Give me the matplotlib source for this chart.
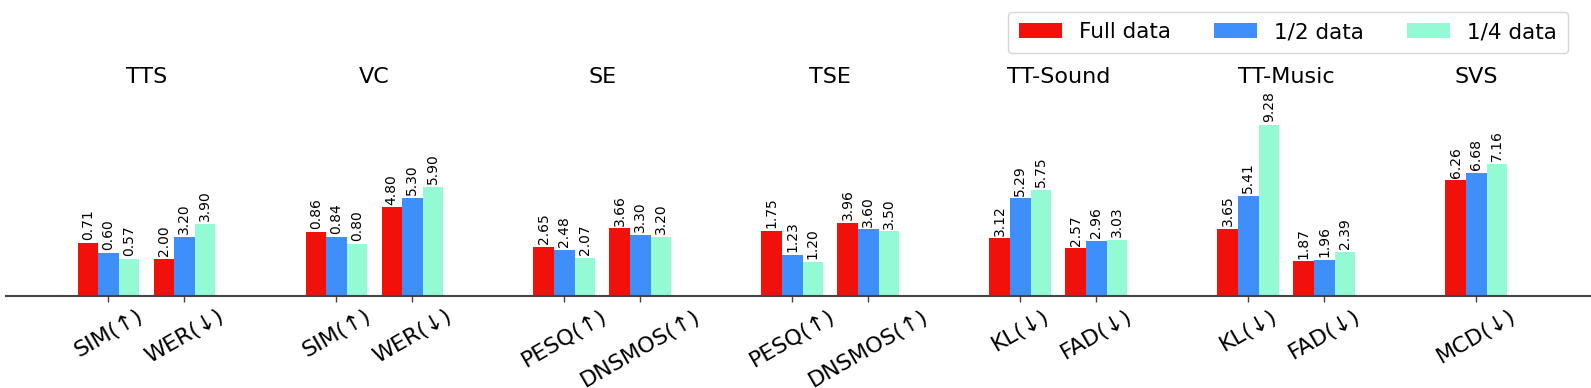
import matplotlib
matplotlib.use("Agg")
import matplotlib.pyplot as plt
import numpy as np

# tasks and their metrics
tasks = ['TTS', 'VC', 'SE', 'TSE', 'TT-Sound', 'TT-Music', 'SVS']
task_metrics = [['SIM(↑)', 'WER(↓)'], ['SIM(↑)', 'WER(↓)'], ['PESQ(↑)', 'DNSMOS(↑)'],
                ['PESQ(↑)', 'DNSMOS(↑)'], ['KL(↓)', 'FAD(↓)'], ['KL(↓)', 'FAD(↓)'], ['MCD(↓)']]

series_names = ['Full data', '1/2 data', '1/4 data']

# printed values
full = [0.71, 2.00, 0.86, 4.80, 2.65, 3.66, 1.75, 3.96, 3.12, 2.57, 3.65, 1.87, 6.26]
half = [0.60, 3.20, 0.84, 5.30, 2.48, 3.30, 1.23, 3.60, 5.29, 2.96, 5.41, 1.96, 6.68]
quarter = [0.57, 3.90, 0.80, 5.90, 2.07, 3.20, 1.20, 3.50, 5.75, 3.03, 9.28, 2.39, 7.16]

# drawn bar heights (SIM / TSE PESQ are rescaled)
full_h = [2.88, 2.00, 3.46, 4.80, 2.65, 3.66, 3.51, 3.96, 3.12, 2.57, 3.65, 1.87, 6.26]
half_h = [2.34, 3.20, 3.18, 5.30, 2.48, 3.30, 2.21, 3.60, 5.29, 2.96, 5.41, 1.96, 6.68]
quarter_h = [2.01, 3.90, 2.80, 5.90, 2.07, 3.20, 1.83, 3.50, 5.75, 3.03, 9.28, 2.39, 7.16]

colors = ['#f2100a', '#3f8ffb', '#94fad3']

# x positions: 3 units per task group
pos = []
labels = []
centers = []
for i, mets in enumerate(task_metrics):
    p = [i * 3 + k for k in range(len(mets))]
    pos += p
    labels += mets
    centers.append(np.mean(p))
pos = np.array(pos, dtype=float)

W, H = 1591, 388
fig = plt.figure(figsize=(W / 100, H / 100), dpi=100)
ax = fig.add_axes([6 / W, (H - 295.7) / H, (W - 6) / W, (295.7 - 50) / H])

width = 0.27
for j, (vals, hts) in enumerate(zip([full, half, quarter], [full_h, half_h, quarter_h])):
    x = pos + (j - 1) * width
    ax.bar(x, hts, width, color=colors[j], label=series_names[j])
    for xi, h, v in zip(x, hts, vals):
        ax.annotate('%.2f' % v, (xi, h), xytext=(0, 2), textcoords='offset points',
                    ha='center', va='bottom', rotation=90, fontsize=10)

for c, t in zip(centers, tasks):
    ax.text(c, 11.9, t, ha='center', va='center', fontsize=16)

ax.set_xticks(pos)
ax.set_xticklabels(labels, rotation=30, fontsize=16)
ax.set_yticks([])
ax.set_ylim(0, 13.35)
ax.set_xlim(-1.346, 19.51)
for s in ['top', 'right', 'left']:
    ax.spines[s].set_visible(False)
ax.spines['bottom'].set_color('#444444')
ax.spines['bottom'].set_linewidth(1.5)
ax.tick_params(axis='x', length=4, width=1, color='#444444')

fig.legend(loc='upper right', ncol=3, fontsize=15.5, borderpad=0.5,
           bbox_to_anchor=(1568 / W, 1 - 11.7 / H), borderaxespad=0)

fig.savefig('out.png', dpi=100)
